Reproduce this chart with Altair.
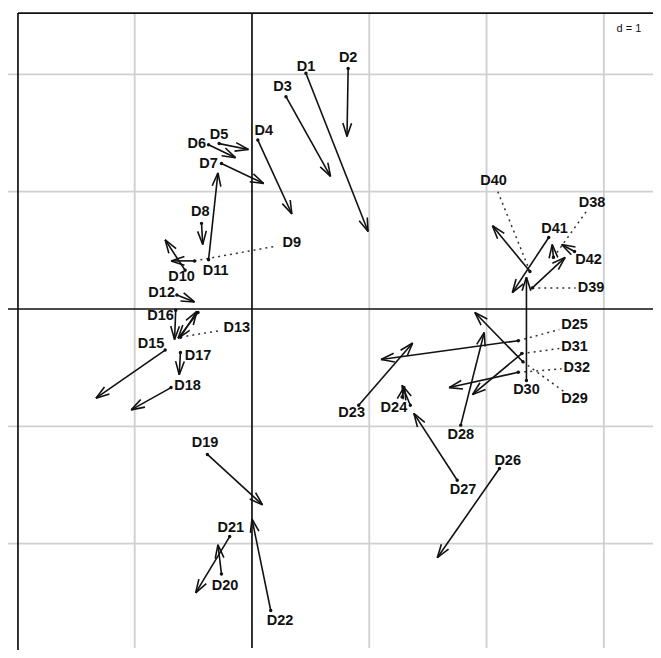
import math
import altair as alt
import pandas as pd

# ---- data (values in plot units, d = 1 grid) ----
names = ["D1", "D2", "D3", "D4", "D5", "D6", "D7", "D8", "D9", "D10",
         "D11", "D12", "D13", "", "D15", "D16", "D17", "D18", "D19", "D20",
         "D21", "D22", "D23", "D24", "", "D25", "D26", "D27", "D28", "D29",
         "D30", "D31", "D32", "D38", "D39", "D40", "D41", "D42"]
x_from = [0.46, 0.82, 0.29, 0.05, -0.28, -0.37, -0.26, -0.43, -0.49, -0.57,
          -0.37, -0.64, -0.61, -0.46, -0.74, -0.65, -0.61, -0.69, -0.38, -0.26,
          -0.19, 0.16, 0.91, 1.35, 1.28, 2.27, 2.11, 1.75, 1.78, 2.31,
          2.34, 2.30, 2.27, 2.57, 2.39, 2.37, 2.53, 2.75]
y_from = [2.01, 2.05, 1.81, 1.44, 1.41, 1.40, 1.24, 0.73, 0.41, 0.33,
          0.42, 0.12, -0.24, -0.03, -0.35, -0.01, -0.37, -0.67, -1.24, -2.26,
          -1.94, -2.57, -0.82, -0.82, -0.75, -0.27, -1.36, -1.46, -0.99, -0.45,
          -0.61, -0.38, -0.54, 0.44, 0.18, 0.32, 0.61, 0.49]
x_to = [0.99, 0.81, 0.67, 0.34, -0.03, -0.14, 0.10, -0.42, -0.69, -0.74,
        -0.29, -0.49, -0.47, -0.63, -1.33, -0.66, -0.62, -1.03, 0.09, -0.29,
        -0.48, 0.00, 1.37, 1.28, 1.30, 1.10, 1.58, 1.38, 1.98, 1.90,
        2.34, 1.88, 1.68, 2.56, 2.67, 2.05, 2.22, 2.64]
y_to = [0.66, 1.47, 1.13, 0.81, 1.36, 1.29, 1.07, 0.55, 0.41, 0.59,
        1.16, 0.06, -0.02, -0.25, -0.76, -0.26, -0.56, -0.86, -1.67, -2.01,
        -2.42, -1.79, -0.29, -0.65, -0.66, -0.43, -2.12, -0.89, -0.20, -0.03,
        0.27, -0.73, -0.67, 0.55, 0.44, 0.71, 0.14, 0.55]
label_x = [0.46, 0.82, 0.26, 0.10, -0.28, -0.47, -0.37, -0.44, 0.34, -0.60,
           -0.31, -0.77, -0.13, -0.46, -0.86, -0.78, -0.46, -0.55, -0.40, -0.23,
           -0.18, 0.24, 0.85, 1.21, 1.28, 2.75, 2.18, 1.80, 1.78, 2.75,
           2.34, 2.75, 2.77, 2.90, 2.89, 2.06, 2.58, 2.87]
label_y = [2.06, 2.14, 1.89, 1.52, 1.48, 1.41, 1.24, 0.83, 0.56, 0.27,
           0.32, 0.14, -0.16, -0.03, -0.30, -0.06, -0.40, -0.66, -1.14, -2.36,
           -1.87, -2.66, -0.89, -0.84, -0.75, -0.14, -1.30, -1.54, -1.07, -0.77,
           -0.69, -0.32, -0.50, 0.90, 0.18, 1.09, 0.68, 0.42]
leader = [False, False, False, False, False, False, False, False, True, False,
          False, False, True, False, False, False, False, False, False, False,
          False, False, False, False, False, True, False, False, False, True,
          False, True, True, True, True, True, False, False]
grid_x = [-1, 1, 2, 3]
grid_y = [-2, -1, 1, 2]

# ---- view geometry (plot units) ----
XMIN, XMAX = -2.080, 3.419
YMIN, YMAX = -2.907, 2.566
FRAME_L, FRAME_T = -1.995, 2.523
GRID_L, GRID_R = -2.080, 3.419
GRID_B = -2.89
HEAD_LEN, HEAD_ANG = 0.12, math.radians(18)
BOX_HW, BOX_HH = 0.13, 0.062

xs = alt.Scale(domain=[XMIN, XMAX], nice=False, zero=False)
ys = alt.Scale(domain=[YMIN, YMAX], nice=False, zero=False)

def enc_seg():
    return dict(
        x=alt.X("x:Q", scale=xs, axis=None),
        y=alt.Y("y:Q", scale=ys, axis=None),
        x2="x2:Q",
        y2="y2:Q",
    )

# grid
grid_rows = []
for gx in grid_x:
    grid_rows.append(dict(x=gx, y=FRAME_T, x2=gx, y2=GRID_B))
for gy in grid_y:
    grid_rows.append(dict(x=GRID_L, y=gy, x2=GRID_R, y2=gy))
grid = alt.Chart(pd.DataFrame(grid_rows)).mark_rule(
    color="#cfcfcf", strokeWidth=1.8).encode(**enc_seg())

axes_rows = [dict(x=0, y=FRAME_T, x2=0, y2=GRID_B),
             dict(x=GRID_L, y=0, x2=GRID_R, y2=0)]
axes = alt.Chart(pd.DataFrame(axes_rows)).mark_rule(
    color="#111111", strokeWidth=1.7).encode(**enc_seg())

frame_rows = [dict(x=FRAME_L, y=FRAME_T, x2=XMAX, y2=FRAME_T),
              dict(x=FRAME_L, y=FRAME_T, x2=FRAME_L, y2=YMIN)]
frame = alt.Chart(pd.DataFrame(frame_rows)).mark_rule(
    color="#111111", strokeWidth=1.7).encode(**enc_seg())

# arrows (shafts + heads)
seg_rows = []
for i in range(len(names)):
    x0, y0, x1, y1 = x_from[i], y_from[i], x_to[i], y_to[i]
    seg_rows.append(dict(x=x0, y=y0, x2=x1, y2=y1))
    dx, dy = x1 - x0, y1 - y0
    n = math.hypot(dx, dy)
    if n == 0:
        continue
    ux, uy = dx / n, dy / n
    for s in (1, -1):
        a = s * HEAD_ANG
        rx = ux * math.cos(a) - uy * math.sin(a)
        ry = ux * math.sin(a) + uy * math.cos(a)
        seg_rows.append(dict(x=x1, y=y1, x2=x1 - HEAD_LEN * rx, y2=y1 - HEAD_LEN * ry))
arrows = alt.Chart(pd.DataFrame(seg_rows)).mark_rule(
    color="#111111", strokeWidth=1.6).encode(**enc_seg())

# leader lines (dotted) from point to label box
lead_rows = []
for i in range(len(names)):
    if not leader[i]:
        continue
    lx, ly = label_x[i], label_y[i]
    px, py = x_from[i], y_from[i]
    dx, dy = px - lx, py - ly
    s = max(abs(dx) / BOX_HW, abs(dy) / BOX_HH)
    lead_rows.append(dict(x=px, y=py, x2=lx + dx / s, y2=ly + dy / s))
leaders = alt.Chart(pd.DataFrame(lead_rows)).mark_rule(
    color="#333333", strokeWidth=1.5, strokeDash=[2, 4]).encode(**enc_seg())

pts_df = pd.DataFrame({"x": x_from, "y": y_from})
points = alt.Chart(pts_df).mark_circle(color="#111111", size=12, opacity=1).encode(
    x=alt.X("x:Q", scale=xs, axis=None), y=alt.Y("y:Q", scale=ys, axis=None))

lab_df = pd.DataFrame({"x": label_x, "y": label_y, "t": names})
labels = alt.Chart(lab_df).mark_text(
    font="Liberation Sans", fontSize=14.5, fontWeight="bold", color="#111111",
    align="center", baseline="middle").encode(
    x=alt.X("x:Q", scale=xs, axis=None), y=alt.Y("y:Q", scale=ys, axis=None),
    text="t:N")

dlab = alt.Chart(pd.DataFrame({"x": [3.32], "y": [2.39], "t": ["d = 1"]})).mark_text(
    font="Liberation Sans", fontSize=11, color="#111111",
    align="right", baseline="middle").encode(
    x=alt.X("x:Q", scale=xs, axis=None), y=alt.Y("y:Q", scale=ys, axis=None),
    text="t:N")

chart = alt.layer(grid, axes, frame, leaders, arrows, points, labels, dlab).properties(
    width=645, height=642, padding=0, background="white",
    autosize=alt.AutoSizeParams(type="none"),
).configure_view(strokeWidth=0, stroke="transparent")

chart.save("out.html", embed_options={"renderer": "svg", "actions": False})
